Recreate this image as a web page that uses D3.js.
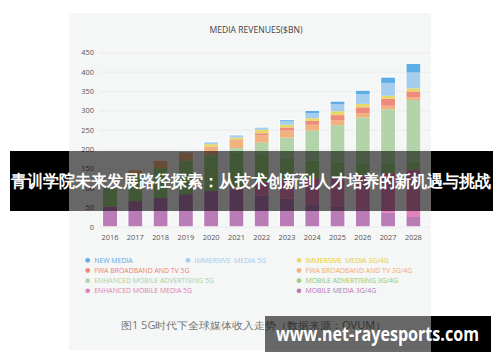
<!DOCTYPE html>
<html>
<head>
<meta charset="utf-8">
<script src="https://cdn.jsdelivr.net/npm/d3@7"></script>
<style>
  body { margin: 0; background: #fff; }
  svg { display: block; }
  text { font-family: "Open Sans", "Noto Sans", sans-serif; }
</style>
</head>
<body>
<div id="chart"></div>
<script>
// years on the x axis
const years = ["2016","2017","2018","2019","2020","2021","2022","2023","2024","2025","2026","2027","2028"];

// series values ($BN), bottom of the stack first
const mobileMedia34   = [52, 66, 75, 84, 92, 96, 80, 72, 58, 51, 44, 36, 25];
const enhMobileMedia5 = [0, 0, 0, 0, 0, 6, 35, 50, 67, 77, 88, 102, 123];
const mobileAdv34     = [48, 67, 76, 86, 90, 88, 70, 55, 45, 38, 32, 26, 20];
const enhMobileAdv5   = [0, 0, 0, 0, 3, 13, 32, 53, 78, 96, 118, 139, 159];
const fwa34           = [0, 13, 19, 21, 19, 19, 19, 18, 15, 13, 11, 9, 7];
const fwa5            = [0, 0, 0, 0, 2, 3, 5, 8, 10, 13, 15, 18, 15];
const immersive34     = [0, 0, 0, 0, 7, 5, 9, 7, 7, 10, 9, 8, 8];
const immersive5      = [0, 0, 0, 2, 5, 6, 6, 9, 13, 18, 25, 33, 41];
const newMedia        = [0, 0, 0, 0, 0, 0, 0, 3, 6, 7, 9, 14, 22];

const yTicks = [0, 50, 100, 150, 200, 250, 300, 350, 400, 450];

const series = [
  {key: "mm34",  name: "MOBILE MEDIA 3G/4G",             values: mobileMedia34,   color: "#b97cb7", text: "#b576b5"},
  {key: "emm5",  name: "ENHANCED MOBILE MEDIA 5G",       values: enhMobileMedia5, color: "#e483bb", text: "#e07bb4"},
  {key: "ma34",  name: "MOBILE ADVERTISING 3G/4G",       values: mobileAdv34,     color: "#9ccf80", text: "#90c86d"},
  {key: "ema5",  name: "ENHANCED MOBILE ADVERTISING 5G", values: enhMobileAdv5,   color: "#b3d3a9", text: "#add0a2"},
  {key: "fwa34", name: "FWA BROADBAND AND TV 3G/4G",     values: fwa34,           color: "#f2b27e", text: "#f1aa74"},
  {key: "fwa5",  name: "FWA BROADBAND AND TV 5G",        values: fwa5,            color: "#ef8a7f", text: "#ee8176"},
  {key: "im34",  name: "IMMERSIVE  MEDIA 3G/4G",         values: immersive34,     color: "#e8d86a", text: "#e2cd3e"},
  {key: "im5",   name: "IMMERSIVE  MEDIA 5G",            values: immersive5,      color: "#a4cdee", text: "#a2c9ec"},
  {key: "nm",    name: "NEW MEDIA",                      values: newMedia,        color: "#5daee6", text: "#56a9e3"}
];

// legend layout: [series key, column, row]
const legendItems = [
  ["nm", 0, 0], ["im5", 1, 0], ["im34", 2, 0],
  ["fwa5", 0, 1], ["fwa34", 2, 1],
  ["ema5", 0, 2], ["ma34", 2, 2],
  ["emm5", 0, 3], ["mm34", 2, 3]
];

const width = 500, height = 362;

const svg = d3.select("#chart").append("svg")
  .attr("width", width)
  .attr("height", height);

svg.append("rect").attr("width", width).attr("height", height).attr("fill", "#fff");

// light panel behind the chart
svg.append("rect")
  .attr("x", 69).attr("y", 13)
  .attr("width", 362).attr("height", 337)
  .attr("fill", "#f5f6f6");

svg.append("text")
  .attr("x", 256).attr("y", 33)
  .attr("text-anchor", "middle")
  .attr("font-size", 8.6)
  .attr("fill", "#444")
  .text("MEDIA REVENUES($BN)");

const x = d3.scaleBand()
  .domain(years)
  .range([96.7, 426.7])
  .paddingInner(0.446)
  .paddingOuter(0.25);

const y = d3.scaleLinear()
  .domain([0, 450])
  .range([226.7, 52.3]);

// gridlines + y labels
const yAxis = svg.append("g")
  .attr("transform", "translate(99,0)")
  .call(d3.axisLeft(y).tickValues(yTicks).tickSize(-331).tickPadding(5));
yAxis.select(".domain").remove();
yAxis.selectAll(".tick line").attr("stroke", "#e9eaea").attr("stroke-width", 0.8);
yAxis.selectAll(".tick text")
  .attr("font-size", 7.4)
  .attr("fill", "#555")
  .attr("font-family", "Open Sans, sans-serif");

// stacked bars
const table = years.map((yr, i) => {
  const row = {year: yr};
  series.forEach(s => { row[s.key] = s.values[i]; });
  return row;
});

const stack = d3.stack().keys(series.map(s => s.key));
const layers = stack(table);

svg.append("g").selectAll("g")
  .data(layers)
  .join("g")
  .attr("fill", (d, i) => series[i].color)
  .selectAll("rect")
  .data(d => d)
  .join("rect")
  .attr("x", d => x(d.data.year))
  .attr("width", x.bandwidth())
  .attr("y", d => y(d[1]))
  .attr("height", d => Math.max(0, y(d[0]) - y(d[1])));

// soft white outline around each bar
svg.append("g").selectAll("rect")
  .data(years)
  .join("rect")
  .attr("x", d => x(d) - 0.5)
  .attr("width", x.bandwidth() + 1)
  .attr("y", (d, i) => y(d3.sum(series, s => s.values[i])) - 0.5)
  .attr("height", (d, i) => y(0) - y(d3.sum(series, s => s.values[i])) + 0.5)
  .attr("fill", "none")
  .attr("stroke", "#fff")
  .attr("stroke-opacity", 0.7)
  .attr("stroke-width", 1);

// x labels
const xAxis = svg.append("g")
  .attr("transform", "translate(0,231)")
  .call(d3.axisBottom(x).tickSize(0).tickPadding(4));
xAxis.select(".domain").remove();
xAxis.selectAll(".tick text")
  .attr("font-size", 7.4)
  .attr("fill", "#555")
  .attr("font-family", "Open Sans, sans-serif");

// legend
const colDot = [87.7, 188, 299];
const rowY = [260.3, 270.5, 280.7, 290.8];
const legend = svg.append("g");
legendItems.forEach(([k, c, r]) => {
  const s = series.find(d => d.key === k);
  legend.append("circle")
    .attr("cx", colDot[c]).attr("cy", rowY[r])
    .attr("r", 2.4)
    .attr("fill", s.color);
  legend.append("text")
    .attr("x", colDot[c] + 6.5).attr("y", rowY[r] + 2.5)
    .attr("font-size", 6.9)
    .attr("fill", s.text)
    .style("white-space", "pre")
    .text(s.name);
});

// caption
svg.append("text")
  .attr("x", 121).attr("y", 329)
  .attr("font-size", 10)
  .attr("fill", "#777")
  .attr("textLength", 265)
  .attr("lengthAdjust", "spacingAndGlyphs")
  .attr("font-family", "Noto Sans CJK SC, sans-serif")
  .text("图1  5G时代下全球媒体收入走势（数据来源：OVUM）");

// title banner over the chart
const banner = svg.append("g");
banner.append("rect").attr("x", 10).attr("y", 151).attr("width", 59).attr("height", 60).attr("fill", "#000");
banner.append("rect").attr("x", 431).attr("y", 151).attr("width", 62).attr("height", 60).attr("fill", "#000");
banner.append("rect").attr("x", 69).attr("y", 151).attr("width", 362).attr("height", 60)
  .attr("fill", "#000").attr("fill-opacity", 0.58);
banner.append("text")
  .attr("x", 251).attr("y", 187)
  .attr("text-anchor", "middle")
  .attr("font-size", 16.5)
  .attr("font-weight", "bold")
  .attr("fill", "#fff")
  .attr("textLength", 480)
  .attr("lengthAdjust", "spacingAndGlyphs")
  .attr("font-family", "Noto Sans CJK SC, sans-serif")
  .text("青训学院未来发展路径探索：从技术创新到人才培养的新机遇与挑战");

// watermark box
const wm = svg.append("g");
wm.append("rect").attr("x", 265).attr("y", 316).attr("width", 166).attr("height", 36)
  .attr("fill", "#000").attr("fill-opacity", 0.58);
wm.append("rect").attr("x", 431).attr("y", 316).attr("width", 60).attr("height", 36).attr("fill", "#000");
wm.append("text")
  .attr("x", 276).attr("y", 341)
  .attr("font-size", 20)
  .attr("font-weight", "bold")
  .attr("fill", "#fff")
  .attr("textLength", 203)
  .attr("lengthAdjust", "spacingAndGlyphs")
  .attr("font-family", "Open Sans, sans-serif")
  .text("www.net-rayesports.com");
</script>
</body>
</html>
